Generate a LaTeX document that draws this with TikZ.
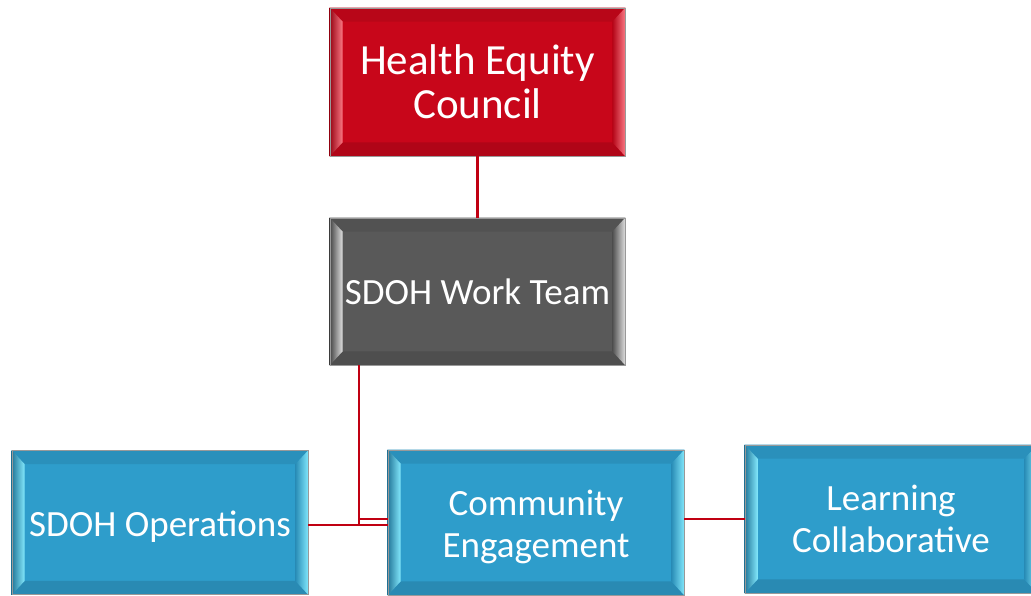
\documentclass[tikz,border=0pt]{standalone}
\usepackage{fontspec}
\setmainfont{Carlito}
\usetikzlibrary{calc,backgrounds}
\definecolor{hecred}{RGB}{200,6,26}
\definecolor{hechi}{RGB}{250,120,132}
\definecolor{wtgray}{RGB}{89,89,89}
\definecolor{wthi}{RGB}{225,225,225}
\definecolor{boxblue}{RGB}{46,157,203}
\definecolor{bluehi}{RGB}{130,232,252}
\definecolor{linkred}{RGB}{192,0,18}
\def\bw{13}
\def\bh{14}
\tikzset{
  orgbox/.style={draw=black!40, line width=0.8pt, inner sep=0pt, text=white,
    font=\fontsize{37}{42}\selectfont, align=center},
  boxtext/.style={inner sep=0pt, text=white, font=\fontsize{37}{42}\selectfont, align=center},
  bigtext/.style={font=\fontsize{43}{44}\selectfont},
  link/.style={draw=linkred, line width=2.6pt}
}
% #1 node name, #2 face colour, #3 highlight colour
\newcommand\bevelbox[3]{%
  \begin{scope}[on background layer]
    \fill[#2] (#1.north west) rectangle (#1.south east);
    \fill[#2!92!black] (#1.north west) -- (#1.north east) -- ($(#1.north east)+(-\bw,\bh)$) -- ($(#1.north west)+(\bw,\bh)$) -- cycle;
    \fill[#2!88!black] (#1.south west) -- (#1.south east) -- ($(#1.south east)+(-\bw,-\bh)$) -- ($(#1.south west)+(\bw,-\bh)$) -- cycle;
    \shade[left color=#2!75!black, right color=#3] (#1.north west) -- ($(#1.north west)+(\bw,\bh)$) -- ($(#1.south west)+(\bw,-\bh)$) -- (#1.south west) -- cycle;
    \shade[left color=#2!90!black, middle color=#3!60!#2, right color=#3] (#1.north east) -- ($(#1.north east)+(-\bw,\bh)$) -- ($(#1.south east)+(-\bw,-\bh)$) -- (#1.south east) -- cycle;
  \end{scope}}
\begin{document}
\begin{tikzpicture}[x=1pt,y=-1pt]
  \useasboundingbox (0,0) rectangle (1031,595);
  \clip (0,0) rectangle (1031,595);
  \node[orgbox, bigtext, minimum width=295pt, minimum height=148pt] (hec) at (477.5,82) {Health Equity\\Council};
  \node[orgbox, minimum width=295pt, minimum height=147pt] (wt) at (477.5,291.5) {SDOH Work Team};
  \node[orgbox, minimum width=296pt, minimum height=144pt] (ops) at (160,522.5) {};
  \node[boxtext] (opsT) at ([yshift=-4pt]ops.center) {SDOH Operations};
  \node[orgbox, minimum width=296pt, minimum height=145pt] (ce) at (536,522.5) {};
  \node[boxtext] (ceT) at ([yshift=-4pt]ce.center) {Community\\Engagement};
  \node[orgbox, minimum width=292pt, minimum height=148pt] (lc) at (891,519) {Learning\\Collaborative};
  \bevelbox{hec}{hecred}{hechi}
  \bevelbox{wt}{wtgray}{wthi}
  \bevelbox{ops}{boxblue}{bluehi}
  \bevelbox{ce}{boxblue}{bluehi}
  \bevelbox{lc}{boxblue}{bluehi}
  \coordinate (ja) at (359,525);
  \coordinate (jb) at (359,519);
  \draw[link] (hec.south) -- (wt.north);
  \draw[link] (wt.south -| ja) -- (ja) -- (ja -| ops.east);
  \draw[link] (ja) -- (ja -| ce.west);
  \draw[link] (jb) -- (jb -| ce.west);
  \draw[link] (ce.east |- lc.west) -- (lc.west);
\end{tikzpicture}
\end{document}
